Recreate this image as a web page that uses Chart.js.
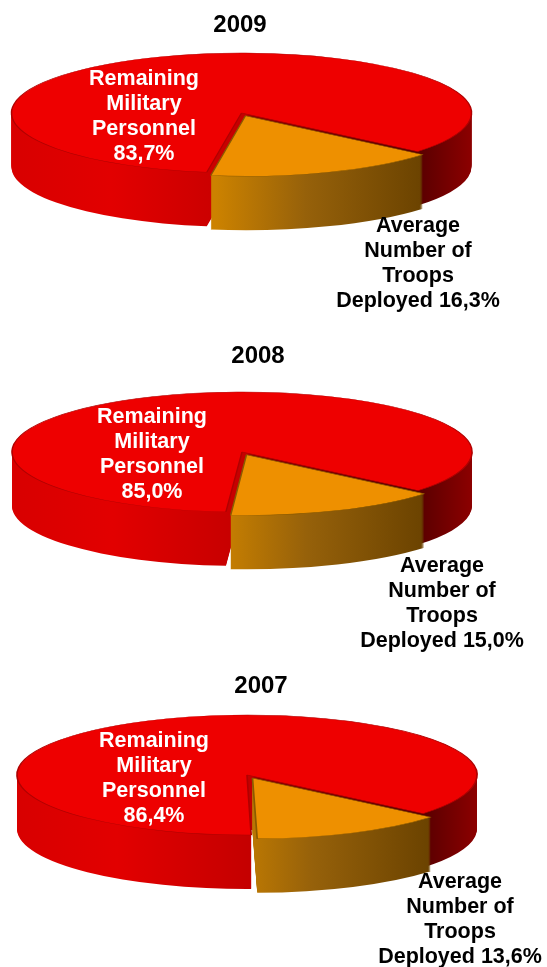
<!DOCTYPE html>
<html>
<head>
<meta charset="utf-8">
<title>Troops deployed</title>
<script src="https://cdn.jsdelivr.net/npm/chart.js@4"></script>
<style>
  html, body { margin: 0; background: #fff; overflow: hidden; }
  canvas { display: block; filter: blur(0.4px); }
</style>
</head>
<body>
<canvas id="pie2009" width="547" height="335"></canvas>
<canvas id="pie2008" width="547" height="330"></canvas>
<canvas id="pie2007" width="547" height="302"></canvas>
<script>
const years = ["2009", "2008", "2007"];
const categories = ["Remaining Military Personnel", "Average Number of Troops Deployed"];
const remaining = [83.7, 85.0, 86.4];
const deployed = [16.3, 15.0, 13.6];
const remainingLines = ["Remaining", "Military", "Personnel"];
const deployedLines = ["Average", "Number of", "Troops", "Deployed"];

// where each pie sits on the page, all in page pixels
const layouts = [
  { top: 0, cx: 241.5, cy: 113, titleX: 240, titleY: 25, redX: 144, redY: 79, orangeX: 418, orangeY: 226 },
  { top: 335, cx: 242, cy: 452, titleX: 258, titleY: 356, redX: 152, redY: 417, orangeX: 442, orangeY: 566 },
  { top: 665, cx: 247, cy: 775, titleX: 261, titleY: 686, redX: 154, redY: 741, orangeX: 460, orangeY: 882 }
];
const radiusX = 230;
const radiusY = 60;
const depth = 54;
const sliceEndAngle = 130; // degrees clockwise from the top, where the orange slice starts

// wall shading, stops are pixels left/right of the pie centre
const redWall = [[-230, "#d80000"], [-130, "#e20000"], [5, "#c40000"], [10, "#8c0000"], [178, "#5a0000"], [230, "#8c0000"]];
const orangeWall = [[-30, "#cc8200"], [60, "#96610a"], [180, "#6a4200"]];

const fmt = v => v.toFixed(1).replace(".", ",");

function wallGradient(ctx, arc, sx, stops) {
  const g = ctx.createLinearGradient(arc.x - radiusX / sx, 0, arc.x + radiusX / sx, 0);
  stops.forEach(s => g.addColorStop((s[0] + radiusX) / (2 * radiusX), s[1]));
  return g;
}

function drawWall(ctx, arc, fill, sy) {
  const saved = arc.options;
  arc.options = { ...saved, backgroundColor: fill, borderWidth: 0 };
  for (let i = depth; i >= 1; i--) {
    ctx.save();
    ctx.translate(0, i / sy);
    arc.draw(ctx);
    ctx.restore();
  }
  arc.options = saved;
}

function drawLines(ctx, lines, x, y, color) {
  ctx.fillStyle = color;
  ctx.textAlign = "center";
  ctx.textBaseline = "middle";
  ctx.font = "bold 21.5px 'Liberation Sans', Arial, sans-serif";
  lines.forEach((line, i) => ctx.fillText(line, x, y + i * 25));
}

const tiltedPie = {
  id: "tiltedPie",
  beforeDatasetsDraw(chart, args, opts) {
    const ctx = chart.ctx;
    const pos = opts.pos;
    const [red, orange] = chart.getDatasetMeta(0).data;
    const sx = radiusX / red.outerRadius;
    const sy = radiusY / red.outerRadius;

    ctx.save();
    ctx.translate(pos.cx, pos.cy - pos.top);
    ctx.scale(sx, sy);
    ctx.translate(-red.x, -red.y);

    // side walls first, then the flat tops
    drawWall(ctx, red, wallGradient(ctx, red, sx, redWall), sy);
    drawWall(ctx, orange, wallGradient(ctx, orange, sx, orangeWall), sy);
    red.draw(ctx);
    orange.draw(ctx);
    ctx.restore();

    ctx.fillStyle = "#000";
    ctx.textAlign = "center";
    ctx.textBaseline = "middle";
    ctx.font = "bold 24px 'Liberation Sans', Arial, sans-serif";
    ctx.fillText(opts.year, pos.titleX, pos.titleY - pos.top);

    drawLines(ctx, [...remainingLines, fmt(opts.red) + "%"], pos.redX, pos.redY - pos.top, "#fff");
    const last = deployedLines.length - 1;
    const lines = deployedLines.map((l, i) => i === last ? l + " " + fmt(opts.orange) + "%" : l);
    drawLines(ctx, lines, pos.orangeX, pos.orangeY - pos.top, "#000");
    return false;
  }
};

years.forEach((year, i) => {
  new Chart(document.getElementById("pie" + year), {
    type: "pie",
    plugins: [tiltedPie],
    data: {
      labels: categories,
      datasets: [{
        data: [remaining[i], deployed[i]],
        backgroundColor: ["#ee0000", "#ee9000"],
        borderColor: ["#b00000", "#8a5a00"],
        borderWidth: 1,
        offset: [0, 30]
      }]
    },
    options: {
      responsive: false,
      animation: false,
      rotation: sliceEndAngle - remaining[i] * 3.6,
      plugins: {
        legend: { display: false },
        tooltip: { enabled: false },
        tiltedPie: { pos: layouts[i], year: year, red: remaining[i], orange: deployed[i] }
      }
    }
  });
});
</script>
</body>
</html>
